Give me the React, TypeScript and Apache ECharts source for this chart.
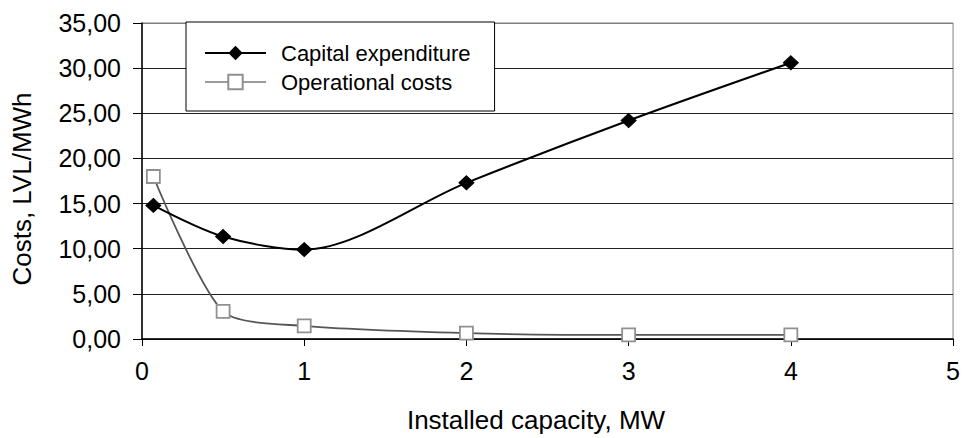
import React, { useEffect, useRef } from "react";
import * as echarts from "echarts";

const capacityMW = [0.07, 0.5, 1, 2, 3, 4];
const capitalExpenditure = [14.8, 11.35, 9.9, 17.3, 24.2, 30.6];
const operationalCosts = [18.0, 3.05, 1.45, 0.65, 0.45, 0.45];
const seriesNames = ["Capital expenditure", "Operational costs"];
const xAxisTitle = "Installed capacity, MW";
const yAxisTitle = "Costs, LVL/MWh";

const FONT = "'Liberation Sans', Arial, sans-serif";

export default function App() {
  const ref = useRef<HTMLDivElement>(null);
  useEffect(() => {
    if (!ref.current) return;
    const chart = echarts.init(ref.current, undefined, { renderer: "svg" });
    const pairs = (ys: number[]) => capacityMW.map((x, i) => [x, ys[i]]);
    chart.setOption({
      animation: false,
      backgroundColor: "#ffffff",
      textStyle: { fontFamily: FONT },
      grid: {
        left: 142,
        right: 7,
        top: 23,
        bottom: 99,
        show: true,
        borderColor: "#808080",
        borderWidth: 1,
        backgroundColor: "transparent",
      },
      xAxis: {
        type: "value",
        min: 0,
        max: 5,
        interval: 1,
        axisLine: { show: true, lineStyle: { color: "#000", width: 1.5 } },
        axisTick: { show: true, length: 7, lineStyle: { color: "#000" } },
        splitLine: { show: false },
        axisLabel: {
          color: "#000",
          fontSize: 25,
          fontFamily: FONT,
          margin: 19,
        },
      },
      yAxis: {
        type: "value",
        min: 0,
        max: 35,
        interval: 5,
        axisLine: { show: true, lineStyle: { color: "#000", width: 1.5 } },
        axisTick: { show: true, length: 9, lineStyle: { color: "#000" } },
        splitLine: {
          show: true,
          lineStyle: {
            color: ["#222", "#222", "#222", "#222", "#222", "#222", "#222", "#808080"],
            width: 1,
          },
        },
        axisLabel: {
          color: "#000",
          fontSize: 25,
          fontFamily: FONT,
          margin: 21,
          formatter: (v: number) => v.toFixed(2).replace(".", ","),
        },
      },
      legend: {
        orient: "vertical",
        left: 186,
        top: 22,
        backgroundColor: "#ffffff",
        borderColor: "#000",
        borderWidth: 1,
        borderRadius: 0,
        padding: [20, 24, 18, 18],
        itemGap: 7,
        itemWidth: 61,
        itemHeight: 18,
        textStyle: { fontSize: 22, color: "#000", fontFamily: FONT, padding: [0, 0, 0, 10] },
        data: [
          { name: seriesNames[0] },
          { name: seriesNames[1], lineStyle: { color: "#9a9a9a" } },
        ],
        z: 10,
      },
      graphic: [
        {
          type: "text",
          x: 22,
          y: 189,
          rotation: Math.PI / 2,
          style: {
            text: yAxisTitle,
            fontSize: 26,
            fontFamily: FONT,
            fill: "#000",
            align: "center",
            verticalAlign: "middle",
          },
        },
        {
          type: "text",
          x: 536,
          y: 420,
          style: {
            text: xAxisTitle,
            fontSize: 26,
            fontFamily: FONT,
            fill: "#000",
            align: "center",
            verticalAlign: "middle",
          },
        },
      ],
      series: [
        {
          name: seriesNames[0],
          type: "line",
          data: pairs(capitalExpenditure),
          smooth: 0.3,
          symbol: "diamond",
          symbolSize: [15, 14],
          showAllSymbol: true,
          lineStyle: { color: "#000", width: 2 },
          itemStyle: { color: "#000", borderColor: "#000" },
          z: 3,
        },
        {
          name: seriesNames[1],
          type: "line",
          data: pairs(operationalCosts),
          smooth: 0.25,
          symbol: "rect",
          symbolSize: 13,
          showAllSymbol: true,
          lineStyle: { color: "#555", width: 1.8 },
          itemStyle: { color: "#ffffff", borderColor: "#909090", borderWidth: 1.8 },
          z: 2,
        },
      ],
    });
    return () => chart.dispose();
  }, []);
  return (
    <div
      ref={ref}
      style={{ position: "fixed", left: 0, top: 0, width: 963, height: 438 }}
    />
  );
}
